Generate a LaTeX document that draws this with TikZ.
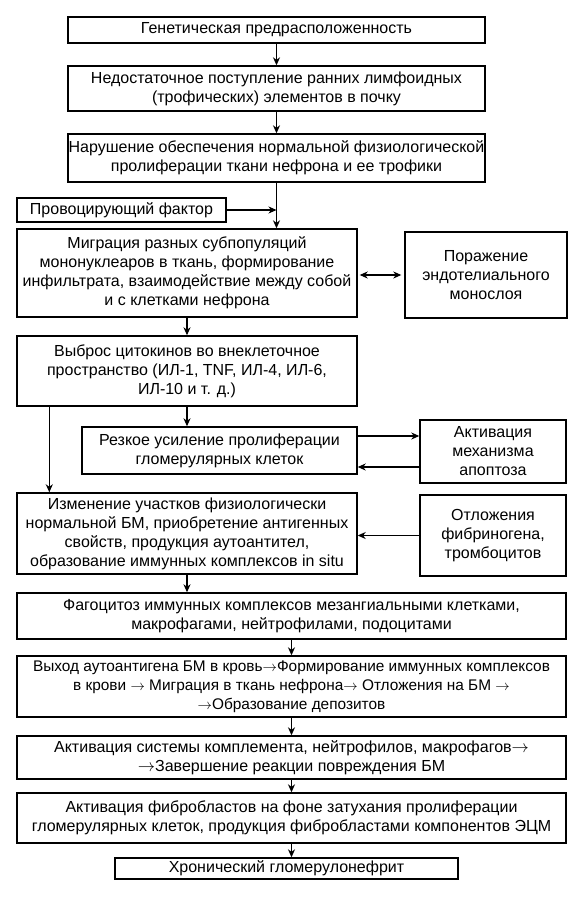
\documentclass[tikz,border=0pt]{standalone}
\usepackage{fontspec}
\setmainfont{Liberation Sans}
\usetikzlibrary{arrows.meta}
\newcommand{\ar}{\ensuremath{\rightarrow}}
\begin{document}
\begin{tikzpicture}[x=1pt,y=-1pt,
  box/.style={draw, line width=1.4pt, inner sep=0pt, align=center,
    font=\fontsize{16}{19}\selectfont},
  arr/.style={line width=1.2pt, -{Stealth[length=8pt,width=7pt,inset=2.5pt]}},
  darr/.style={line width=1.2pt, {Stealth[length=8pt,width=7pt,inset=2.5pt]}-{Stealth[length=8pt,width=7pt,inset=2.5pt]}}]
\useasboundingbox[fill=white] (0,0) rectangle (579,900);

\node[box, minimum width=417pt, minimum height=26pt] (b1) at (276.5,30) {Генетическая предрасположенность};
\node[box, minimum width=417pt, minimum height=45pt] (b2) at (276.5,88.5) {Недостаточное поступление ранних лимфоидных\\(трофических) элементов в почку};
\node[box, minimum width=417pt, minimum height=48pt] (b3) at (276.5,158) {Нарушение обеспечения нормальной физиологической\\пролиферации ткани нефрона и ее трофики};
\node[box, minimum width=209pt, minimum height=24pt] (prov) at (121.5,210) {Провоцирующий фактор};
\node[box, minimum width=340pt, minimum height=88pt] (b4) at (187,273) {Миграция разных субпопуляций\\мононуклеаров в ткань, формирование\\инфильтрата, взаимодействие между собой\\и с клетками нефрона};
\node[box, minimum width=162pt, minimum height=86pt] (por) at (486,275) {Поражение\\эндотелиального\\монослоя};
\node[box, minimum width=340pt, minimum height=70pt] (b5) at (187,371) {Выброс цитокинов во внеклеточное\\пространство (ИЛ-1, TNF, ИЛ-4, ИЛ-6,\\ИЛ-10 и т. д.)};
\node[box, minimum width=275pt, minimum height=47pt] (b6) at (219.5,450.5) {Резкое усиление пролиферации\\гломерулярных клеток};
\node[box, minimum width=146pt, minimum height=63pt] (apop) at (493,451.5) {Активация\\механизма\\апоптоза};
\node[box, minimum width=340pt, minimum height=81pt] (b7) at (187,533.5) {Изменение участков физиологически\\нормальной БМ, приобретение антигенных\\свойств, продукция аутоантител,\\образование иммунных комплексов in situ};
\node[box, minimum width=146pt, minimum height=81pt] (fibr) at (493,535.5) {Отложения\\фибриногена,\\тромбоцитов};
\node[box, minimum width=549pt, minimum height=46pt] (b8) at (291.5,616) {Фагоцитоз иммунных комплексов мезангиальными клетками,\\макрофагами, нейтрофилами, подоцитами};
\node[box, minimum width=549pt, minimum height=61pt, font=\fontsize{15.4}{19}\selectfont] (b9) at (291.5,686.5) {Выход аутоантигена БМ в кровь\ar Формирование иммунных комплексов\\в крови \ar\ Миграция в ткань нефрона\ar\ Отложения на БМ \ar\\\ar Образование депозитов};
\node[box, minimum width=549pt, minimum height=43pt] (b10) at (291.5,757.5) {Активация системы комплемента, нейтрофилов, макрофагов\ar\\\ar Завершение реакции повреждения БМ};
\node[box, minimum width=549pt, minimum height=50pt] (b11) at (291.5,818) {Активация фибробластов на фоне затухания пролиферации\\гломерулярных клеток, продукция фибробластами компонентов ЭЦМ};
\node[box, minimum width=343pt, minimum height=21pt] (b12) at (286.5,868.5) {Хронический гломерулонефрит};

\draw[arr] (b1) -- (b2);
\draw[arr] (b2) -- (b3);
\draw[arr] (b3) -- (b4.north -| b3.south);
\coordinate (j) at (prov.east -| b3.south);
\draw[arr] (prov) -- (j);
\draw[darr, shorten <=2pt, shorten >=3pt] (por.west -| b4.east) -- (por.west);
\draw[arr] (b4) -- (b5);
\draw[arr] (b5.south) -- (b5.south |- b6.north);
\draw[arr] ([xshift=33pt]b5.south west) -- ([xshift=33pt]b7.north west);
\coordinate (a1) at ([yshift=15.5pt]apop.west);
\coordinate (a2) at ([yshift=-15.5pt]apop.west);
\draw[arr] (a1 -| b6.east) -- (a1);
\draw[arr] (a2) -- (a2 -| b6.east);
\draw[arr] (fibr.west) -- (fibr.west -| b7.east);
\draw[arr] (b7.south) -- (b7.south |- b8.north);
\draw[arr] (b8) -- (b9);
\draw[arr] (b9) -- (b10);
\draw[arr] (b10) -- (b11);
\draw[arr] (b11.south) -- (b11.south |- b12.north);
\end{tikzpicture}
\end{document}
